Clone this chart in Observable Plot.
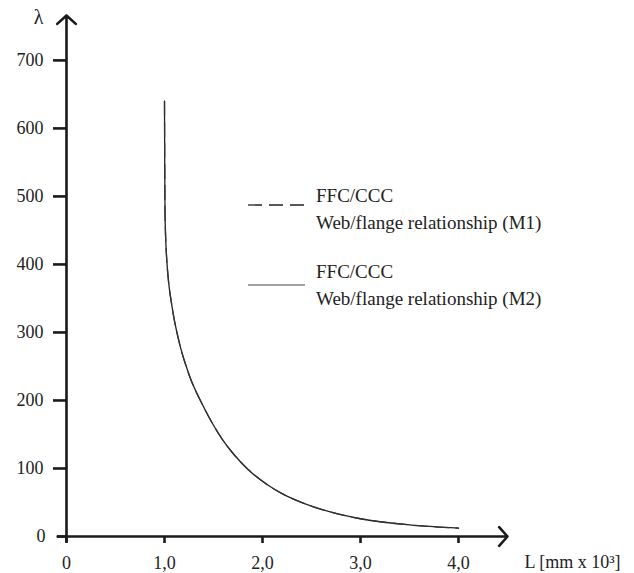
<!DOCTYPE html>
<html>
<head>
<meta charset="utf-8">
<script src="https://cdn.jsdelivr.net/npm/d3@7"></script>
<script src="https://cdn.jsdelivr.net/npm/@observablehq/plot@0.6"></script>
<style>
  html, body { margin: 0; padding: 0; background: #fff; }
  #wrap { position: relative; width: 634px; height: 573px; font-family: "Liberation Serif", "Times New Roman", serif; color: #222; }
  .leg { position: absolute; font-size: 19px; line-height: 19px; white-space: nowrap; }
  .legsvg { position: absolute; }
</style>
</head>
<body>
<div id="wrap"></div>
<script>
// ---- data ----
const xTicks = [0, 1, 2, 3, 4];
const yTicks = [100, 200, 300, 400, 500, 600, 700];
const xDomain = [0, 4.5];
const yDomain = [0, 766];
const xAxisExtent = [-0.09, 4.5];
const yAxisExtent = [-7.5, 766];

const L_M1 = [1.000, 1.002, 1.005, 1.010, 1.020, 1.034, 1.078, 1.146, 1.248, 1.401, 1.599, 1.700, 1.850, 2.050, 2.200, 2.390, 2.700, 3.000, 3.500, 4.000];
const lam_M1 = [640, 560, 480, 447, 414, 386, 337, 288, 239, 190, 141, 122, 99, 76, 63, 50.5, 35.8, 26.1, 17.1, 12.3];
const L_M2 = [1.000, 1.002, 1.005, 1.010, 1.020, 1.034, 1.078, 1.146, 1.248, 1.401, 1.599, 1.700, 1.850, 2.050, 2.200, 2.390, 2.700, 3.000, 3.500, 4.000];
const lam_M2 = [640, 560, 480, 447, 414, 386, 337, 288, 239, 190, 141, 122, 99, 76, 63, 50.5, 35.8, 26.1, 17.1, 12.3];

const legendLabels = [
  ["FFC/CCC", "Web/flange relationship (M1)"],
  ["FFC/CCC", "Web/flange relationship (M2)"]
];
const xLabel = "L [mm x 10³]";
const yLabel = "λ";

// ---- build ----
const m1 = L_M1.map((L, i) => ({L, lam: lam_M1[i]}));
const m2 = L_M2.map((L, i) => ({L, lam: lam_M2[i]}));
const ink = "#1a1a1a";

const chart = Plot.plot({
  width: 634,
  height: 573,
  marginLeft: 66,
  marginRight: 127,
  marginTop: 15,
  marginBottom: 37,
  style: { fontFamily: "'Liberation Serif', 'Times New Roman', serif", color: ink, background: "#fff", overflow: "visible" },
  x: { domain: xDomain },
  y: { domain: yDomain },
  marks: [
    Plot.axisY(yTicks, { tickSize: 13, tickPadding: 10, strokeWidth: 2.6, fontSize: 18, fill: "#222", label: null }),
    Plot.axisY([0], { tickSize: 9, tickPadding: 12, strokeWidth: 2.6, fontSize: 18, fill: "#222", label: null }),
    Plot.axisX(xTicks, { tickSize: 7, tickPadding: 13, strokeWidth: 2.6, fontSize: 18, fill: "#222", label: null,
      tickFormat: d => d === 0 ? "0" : d.toFixed(1).replace(".", ",") }),
    Plot.arrow([{}], { x1: xAxisExtent[0], x2: xAxisExtent[1], y1: 0, y2: 0, stroke: ink, strokeWidth: 2.6, headAngle: 96, headLength: 7.2 }),
    Plot.arrow([{}], { x1: 0, x2: 0, y1: yAxisExtent[0], y2: yAxisExtent[1], stroke: ink, strokeWidth: 2.6, headAngle: 96, headLength: 7.2 }),
    Plot.line(m2, { x: "L", y: "lam", curve: "monotone-x", stroke: "#222", strokeWidth: 1.3 }),
    Plot.line(m1, { x: "L", y: "lam", curve: "monotone-x", stroke: "#333", strokeWidth: 1.3, strokeDasharray: "14 7" }),
    Plot.text([yLabel], { frameAnchor: "top-left", dx: -28, dy: 2, fontSize: 20, fill: "#222", textAnchor: "middle", lineAnchor: "middle" }),
    Plot.text([xLabel], { frameAnchor: "bottom-right", dx: 65, dy: 26, fontSize: 18, fill: "#222", textAnchor: "middle", lineAnchor: "middle" })
  ]
});

const wrap = document.getElementById("wrap");
wrap.appendChild(chart);

// ---- legend overlay ----
const legendTops = [196, 272];
const legendLineY = [205, 285];
const legendStyles = [
  { dash: "14 7", color: "#222", width: 1.3 },
  { dash: null, color: "#808080", width: 1.6 }
];
legendLabels.forEach((lines, i) => {
  const s = legendStyles[i];
  const svgNS = "http://www.w3.org/2000/svg";
  const sv = document.createElementNS(svgNS, "svg");
  sv.setAttribute("class", "legsvg");
  sv.setAttribute("width", 58);
  sv.setAttribute("height", 6);
  sv.style.left = "248px";
  sv.style.top = (legendLineY[i] - 3) + "px";
  const ln = document.createElementNS(svgNS, "line");
  ln.setAttribute("x1", 0); ln.setAttribute("x2", 57);
  ln.setAttribute("y1", 3); ln.setAttribute("y2", 3);
  ln.setAttribute("stroke", s.color);
  ln.setAttribute("stroke-width", s.width);
  if (s.dash) ln.setAttribute("stroke-dasharray", s.dash);
  sv.appendChild(ln);
  wrap.appendChild(sv);
  lines.forEach((t, j) => {
    const d = document.createElement("div");
    d.className = "leg";
    d.textContent = t;
    d.style.left = "316px";
    d.style.top = (legendTops[i] + j * 27 - 10) + "px";
    wrap.appendChild(d);
  });
});
</script>
</body>
</html>
